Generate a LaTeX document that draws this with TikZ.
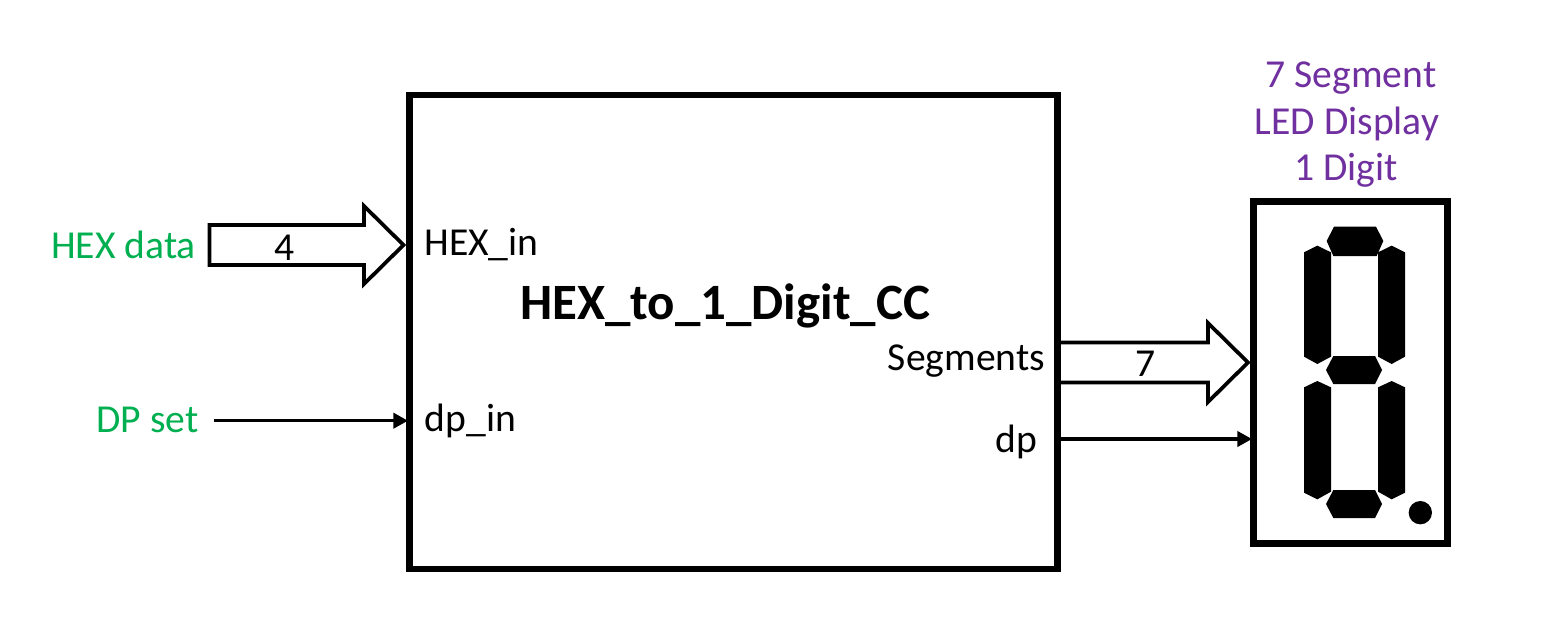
\documentclass[tikz,border=0pt]{standalone}
\usepackage{fontspec}
\setmainfont{Carlito}
\usetikzlibrary{arrows.meta}
\definecolor{grn}{HTML}{00B050}
\definecolor{pur}{HTML}{7030A0}
\tikzset{
 x=0.75pt,y=-0.75pt,
 lbl/.style={inner sep=0pt,anchor=base,font=\fontsize{29.7}{30}\selectfont},
 inlbl/.style={lbl,text=grn},
 dsplbl/.style={lbl,text=pur},
 ttl/.style={inner sep=0pt,anchor=base,font=\fontsize{38.2}{38}\selectfont\bfseries},
 bus/.style={draw=black,fill=white,line width=2.8pt,miter limit=10},
 wire/.style={draw=black,line width=2.4pt,-{Triangle[length=11pt,width=11.5pt]}},
 frame/.style={draw=black,fill=white,line width=4.7pt,inner sep=0pt},
 seg/.style={fill=black,draw=none},
}
\begin{document}
\begin{tikzpicture}
\useasboundingbox (0,0) rectangle (1547,618);
\fill[white] (0,0) rectangle (1547,618);
% bus arrows first
\path[bus] (1059,342.5) -- (1208,342.5) -- (1208,323) -- (1248,362.5) -- (1208,402) -- (1208,382.5) -- (1059,382.5) -- cycle;
\node[frame,minimum width=486pt,minimum height=356pt] (main) at (733.5,332) {};
\node[frame,minimum width=145.5pt,minimum height=256.5pt] (disp) at (1350.5,372.5) {};
\path[bus] (209.5,225) -- (364,225) -- (364,206) -- (403.5,245) -- (364,284) -- (364,265) -- (209.5,265) -- cycle;
% labels
\node[inlbl] (hexdata) at (123.5,258.5) {HEX data};
\node[inlbl] (dpset) at (147.5,432.5) {DP set};
\node[lbl] (hexin) at (481.5,255.5) {HEX\_in};
\node[lbl] (dpin) at (470.5,431.5) {dp\_in};
\node[lbl] (segs) at (966.5,370.5) {Segments};
\node[lbl] (dpout) at (1016.5,452.5) {dp};
\node[ttl] (title) at (725,319) {HEX\_to\_1\_Digit\_CC};
\node[lbl] (four) at (285,260.5) {4};
\node[lbl] (seven) at (1146,376) {7};
\node[dsplbl] (d1) at (1351,87.5) {7 Segment};
\node[dsplbl] (d2) at (1347,134.5) {LED Display};
\node[dsplbl] (d3) at (1346,180) {1 Digit};
% thin wires
\coordinate (dpa) at (214,420.7);
\coordinate (dpb) at (main.west |- dpa);
\coordinate (dpc) at (main.east |- 0,439);
\coordinate (dpd) at (disp.west |- dpc);
\draw[wire] (dpa) -- ([xshift=1.2pt]dpb);
\draw[wire] (dpc) -- ([xshift=1.2pt]dpd);
% segments
\begin{scope}[shift={(1240,190)},x=0.25pt,y=-0.25pt]
\path[seg] (282,110)--(408,110)--(430,153)--(410,198)--(280,198)--(260,153)--cycle;
\path[seg] (280,498)--(405,498)--(426,540)--(405,582)--(280,582)--(258,540)--cycle;
\path[seg] (280,900)--(405,900)--(426,942)--(405,984)--(280,984)--(258,942)--cycle;
\path[seg] (192,187)--(232,167)--(273,187)--(273,500)--(232,522)--(192,500)--cycle;
\path[seg] (414,187)--(455,167)--(495,187)--(495,500)--(455,522)--(414,500)--cycle;
\path[seg] (192,592)--(232,573)--(273,592)--(273,905)--(232,928)--(192,908)--cycle;
\path[seg] (414,592)--(455,573)--(495,592)--(495,908)--(455,928)--(414,905)--cycle;
\fill[black] (541,968) circle (8.75pt);
\end{scope}
\end{tikzpicture}
\end{document}
